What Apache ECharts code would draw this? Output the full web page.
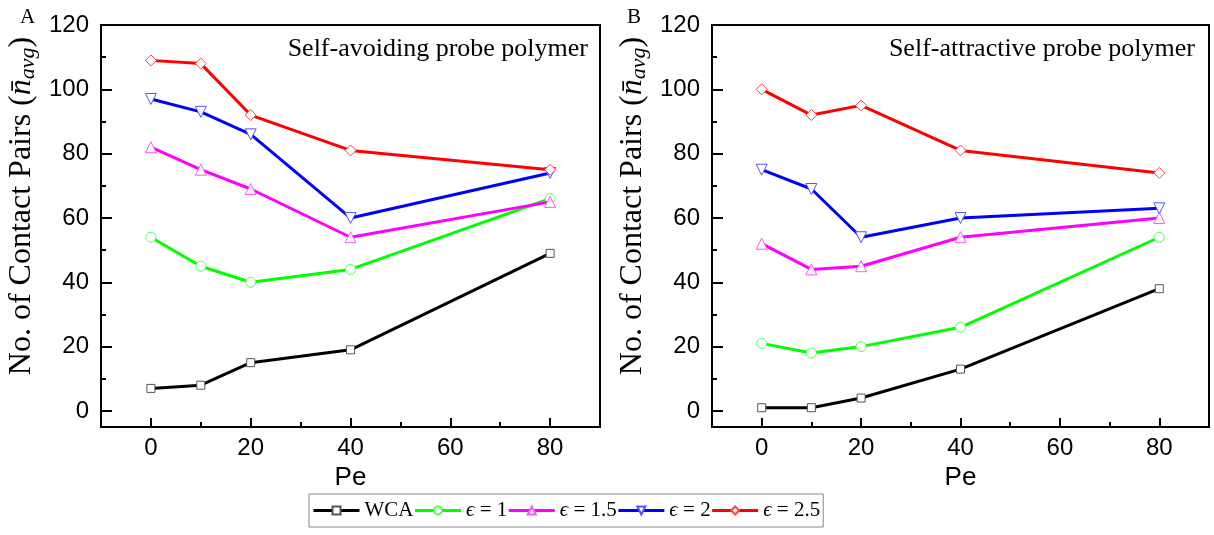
<!DOCTYPE html>
<html>
<head>
<meta charset="utf-8">
<script src="https://cdn.jsdelivr.net/npm/echarts@6/dist/echarts.min.js"></script>
<style>html,body{margin:0;padding:0;background:#fff;}#c{width:1214px;height:535px;}</style>
</head>
<body>
<div id="c"></div>
<script>
const peValues = [0, 10, 20, 40, 80];
const seriesNames = ['WCA', 'ϵ = 1', 'ϵ = 1.5', 'ϵ = 2', 'ϵ = 2.5'];
const avoidingWCA = [7, 8, 15, 19, 49];
const avoidingEps1 = [54, 45, 40, 44, 66];
const avoidingEps15 = [82, 75, 69, 54, 65];
const avoidingEps2 = [97, 93, 86, 60, 74];
const avoidingEps25 = [109, 108, 92, 81, 75];
const attractiveWCA = [1, 1, 4, 13, 38];
const attractiveEps1 = [21, 18, 20, 26, 54];
const attractiveEps15 = [52, 44, 45, 54, 60];
const attractiveEps2 = [75, 69, 54, 60, 63];
const attractiveEps25 = [100, 92, 95, 81, 74];
const xMajorTicks = [0, 20, 40, 60, 80];
const xMinorTicks = [10, 30, 50, 70];
const yMajorTicks = [0, 20, 40, 60, 80, 100, 120];
const yMinorTicks = [10, 30, 50, 70, 90, 110];
const panelTitles = ['Self-avoiding probe polymer', 'Self-attractive probe polymer'];
const panelLetters = ['A', 'B'];

const lineColors = ['#000000', '#00ff00', '#ff00ff', '#0000ff', '#ff0000'];
const markerBorders = ['#555555', '#55ff55', '#ff55ff', '#5555ff', '#ff4444'];
const markerShapes = ['rect', 'circle', 'triangle', 'triangle', 'diamond'];
const markerRotates = [0, 0, 0, 180, 0];
const markerSizes = [8, 10, 11, 11, 11];

const panelData = [
  [avoidingWCA, avoidingEps1, avoidingEps15, avoidingEps2, avoidingEps25],
  [attractiveWCA, attractiveEps1, attractiveEps15, attractiveEps2, attractiveEps25]
];

const sans = 'Liberation Sans';
const serif = 'Liberation Serif';

const grids = [
  {left: 101, top: 25, width: 499, height: 402, show: true, borderColor: '#000', borderWidth: 2},
  {left: 712, top: 25, width: 497, height: 402, show: true, borderColor: '#000', borderWidth: 2}
];

const xAxes = [];
const yAxes = [];
[0, 1].forEach(g => {
  xAxes.push({
    type: 'value', gridIndex: g, min: -10, max: 90, position: 'bottom',
    name: 'Pe', nameLocation: 'middle', nameGap: 34,
    nameTextStyle: {fontFamily: sans, fontSize: 26, color: '#000'},
    axisLine: {show: true, onZero: false, lineStyle: {color: '#000', width: 2}},
    axisTick: {show: true, inside: true, length: 9, lineStyle: {color: '#000', width: 2}, customValues: xMajorTicks},
    axisLabel: {fontFamily: sans, fontSize: 24, color: '#000', margin: 9, customValues: xMajorTicks},
    splitLine: {show: false}
  });
  xAxes.push({
    type: 'value', gridIndex: g, min: -10, max: 90, position: 'bottom',
    axisLine: {show: false, onZero: false},
    axisTick: {show: true, inside: true, length: 5, lineStyle: {color: '#000', width: 2}, customValues: xMinorTicks},
    axisLabel: {show: false},
    splitLine: {show: false}
  });
  yAxes.push({
    type: 'value', gridIndex: g, min: -5, max: 120, position: 'left',
    name: 'No. of Contact Pairs ({n|n\u0304}{s|avg})',
    nameLocation: 'middle', nameGap: 62, nameRotate: 90,
    nameTextStyle: {
      fontFamily: serif, fontSize: 32, color: '#000', padding: [0, 0, 0, 40],
      rich: {
        n: {fontFamily: serif, fontStyle: 'italic', fontSize: 32, color: '#000'},
        s: {fontFamily: serif, fontStyle: 'italic', fontSize: 22, color: '#000', padding: [13, 0, 0, 0]}
      }
    },
    axisLine: {show: true, onZero: false, lineStyle: {color: '#000', width: 2}},
    axisTick: {show: true, inside: true, length: 11, lineStyle: {color: '#000', width: 2}, customValues: yMajorTicks},
    axisLabel: {fontFamily: sans, fontSize: 24, color: '#000', margin: 12, customValues: yMajorTicks},
    splitLine: {show: false}
  });
  yAxes.push({
    type: 'value', gridIndex: g, min: -5, max: 120, position: 'left',
    axisLine: {show: false, onZero: false},
    axisTick: {show: true, inside: true, length: 5, lineStyle: {color: '#000', width: 2}, customValues: yMinorTicks},
    axisLabel: {show: false},
    splitLine: {show: false}
  });
});

const series = [];
[0, 1].forEach(g => {
  panelData[g].forEach((vals, i) => {
    series.push({
      type: 'line', name: seriesNames[i],
      xAxisIndex: g * 2, yAxisIndex: g * 2,
      data: peValues.map((p, k) => [p, vals[k]]),
      symbol: markerShapes[i], symbolSize: markerSizes[i], symbolRotate: markerRotates[i],
      showAllSymbol: true,
      lineStyle: {color: lineColors[i], width: 3},
      itemStyle: {color: '#ffffff', borderColor: markerBorders[i], borderWidth: 1},
      emphasis: {disabled: true},
      z: 2 + i,
      animation: false
    });
  });
});

const titles = [
  {text: panelTitles[0], right: 621, top: 31, textStyle: {fontFamily: serif, fontSize: 26, fontWeight: 'normal', color: '#000'}},
  {text: panelTitles[1], right: 14, top: 31, textStyle: {fontFamily: serif, fontSize: 26, fontWeight: 'normal', color: '#000'}},
  {text: panelLetters[0], left: 15, top: 2, textStyle: {fontFamily: serif, fontSize: 21, fontWeight: 'normal', color: '#000'}},
  {text: panelLetters[1], left: 622, top: 2, textStyle: {fontFamily: serif, fontSize: 21, fontWeight: 'normal', color: '#000'}}
];

const chart = echarts.init(document.getElementById('c'));
chart.setOption({
  animation: false,
  backgroundColor: '#fff',
  title: titles,
  grid: grids,
  xAxis: xAxes,
  yAxis: yAxes,
  legend: {
    data: seriesNames,
    left: 309, top: 494,
    orient: 'horizontal',
    itemGap: 0, itemWidth: 46, itemHeight: 10,
    borderColor: '#888', borderWidth: 1,
    padding: [6, 3, 6, 3],
    selectedMode: false,
    lineStyle: {width: 3},
    formatter: name => name === 'WCA' ? 'WCA' : '{i|ϵ}' + name.slice(1),
    textStyle: {
      fontFamily: serif, fontSize: 21, color: '#000',
      rich: {i: {fontFamily: serif, fontStyle: 'italic', fontSize: 21, color: '#000'}}
    }
  },
  series: series
});
</script>
</body>
</html>
